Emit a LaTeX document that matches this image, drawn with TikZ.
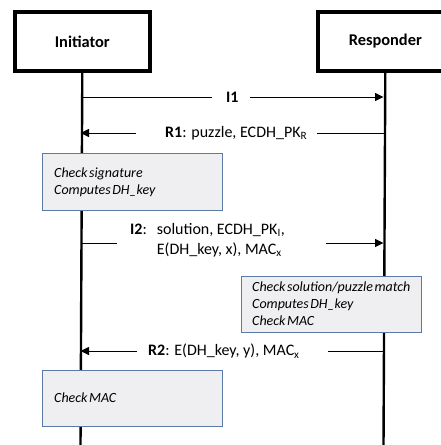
\documentclass[tikz,border=0pt]{standalone}
\usepackage{fontspec}
\setmainfont{Carlito}
\usetikzlibrary{arrows.meta}
\definecolor{boxfill}{HTML}{EFEFF1}
\definecolor{boxline}{HTML}{5A7BA6}
\newcommand\tightsp{\spaceskip=1.5pt\relax}
\tikzset{
  msgfont/.style={font=\fontsize{16}{20}\selectfont},
  actor/.style={draw=black, line width=3.6pt, minimum width=135pt, minimum height=59pt, anchor=north west, inner sep=0pt, font=\fontsize{16.4}{19}\selectfont\bfseries},
  lifeline/.style={line width=2.4pt},
  procbox/.style={draw=boxline, fill=boxfill, line width=0.9pt, anchor=north west, minimum width=180pt, inner sep=0pt},
  boxtext/.style={anchor=west, inner sep=0pt, text width=175pt, align=left, font=\fontsize{14}{17.3}\selectfont\itshape},
  msg/.style={line width=0.9pt},
  msgarrow/.style={line width=0.9pt, -{Triangle[length=8.5pt,width=8pt]}},
  lbl/.style={msgfont, inner sep=0pt}
}
\begin{document}
\begin{tikzpicture}[x=1pt,y=-1pt]
\useasboundingbox (0,0) rectangle (441,445);
% actors
\node[actor] (init) at (13,10) {Initiator};
\node[actor] (resp) at (316,10) {Responder};
\coordinate (iend) at (80.5,447);
\coordinate (rend) at (383.5,447);
\draw[lifeline] (init.south) -- (iend);
\draw[lifeline] (resp.south) -- (rend);
% I1
\coordinate (i1a) at (80.5,97);
\coordinate (i1m) at (212,97);
\coordinate (i1n) at (250,97);
\coordinate (i1b) at (383.5,97);
\node[lbl, anchor=west] (l1) at (226,97) {\textbf{I1}};
\draw[msg] (i1a) -- (i1m);
\draw[msgarrow] (i1n) -- (i1b);
% R1
\coordinate (r1b) at (383.5,133);
\coordinate (r1n) at (317,133);
\coordinate (r1m) at (136,133);
\coordinate (r1a) at (80.5,133);
\node[lbl, anchor=west] (l2) at (165,133) {\textbf{R1}: puzzle, ECDH\_PK\textsubscript{R}};
\draw[msg] (r1b) -- (r1n);
\draw[msgarrow] (r1m) -- (r1a);
% box 1
\node[procbox, minimum height=57pt] (b1) at (42,153) {};
\node[boxtext] (t1) at (54,182) {\tightsp Check signature\\Computes DH\_key};
% I2
\coordinate (i2a) at (80.5,243);
\coordinate (i2m) at (117,243);
\coordinate (i2n) at (326,243);
\coordinate (i2b) at (383.5,243);
\node[lbl, anchor=west, align=left] (l3) at (130,240) {\begin{tabular}{@{}l@{\hspace{10pt}}l@{}}\textbf{I2}: & solution, ECDH\_PK\textsubscript{I},\\ & E(DH\_key, x), MAC\textsubscript{x}\end{tabular}};
\draw[msg] (i2a) -- (i2m);
\draw[msgarrow] (i2n) -- (i2b);
% box 2
\node[procbox, minimum height=56pt] (b2) at (241,276) {};
\node[boxtext] (t2) at (252,303.5) {\tightsp Check solution/puzzle match\\Computes DH\_key\\Check MAC};
% R2
\coordinate (r2b) at (383.5,351);
\coordinate (r2n) at (328,351);
\coordinate (r2m) at (137,351);
\coordinate (r2a) at (80.5,351);
\node[lbl, anchor=west] (l4) at (148,351) {\textbf{R2}: E(DH\_key, y), MAC\textsubscript{x}};
\draw[msg] (r2b) -- (r2n);
\draw[msgarrow] (r2m) -- (r2a);
% box 3
\node[procbox, minimum height=56pt] (b3) at (42,370) {};
\node[boxtext] (t3) at (54,398) {\tightsp Check MAC};
\end{tikzpicture}
\end{document}
